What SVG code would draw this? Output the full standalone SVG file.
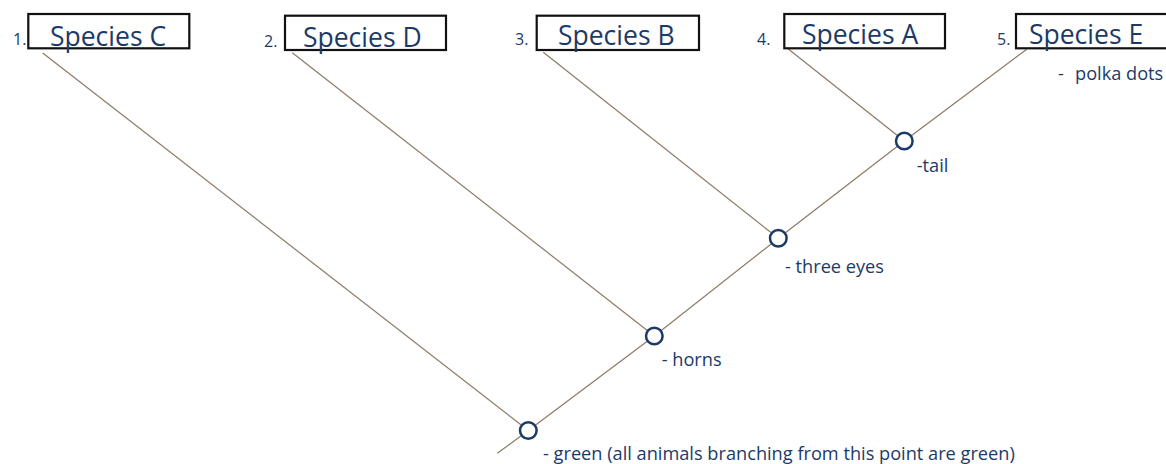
<svg xmlns="http://www.w3.org/2000/svg" width="1166" height="464" viewBox="0 0 1166 464">
<style>
.box{fill:none;stroke:#111;stroke-width:2.2}
.sp{font-family:"Open Sans","Noto Sans",sans-serif;font-size:26.5px;fill:#1c3a68}
.num{font-family:"Open Sans","Noto Sans",sans-serif;font-size:16px;fill:#1c3a68}
.lbl{font-family:"Open Sans","Noto Sans",sans-serif;font-size:18.2px;fill:#1c3a68}
.edge{fill:none;stroke:#8c7a66;stroke-width:1.2}
.node{fill:#fff;stroke:#1c3a68;stroke-width:2.5}
</style>
<rect width="1166" height="464" fill="#fff"/>
<g id="connectors">
<line class="edge" x1="42.7" y1="53" x2="528.3" y2="430.5"/>
<line class="edge" x1="292.3" y1="52.7" x2="654.3" y2="336"/>
<line class="edge" x1="543.3" y1="52.3" x2="778.3" y2="238.3"/>
<line class="edge" x1="788.3" y1="49" x2="904.3" y2="141"/>
<polyline class="edge" points="497.3,453.3 528.3,430.5 654.3,336 778.3,238.3 904.3,141 1026.7,49.3"/>
</g>
<g id="species-c">
<text class="num" x="13" y="45">1.</text>
<rect class="box" x="28.3" y="14" width="161" height="34.3"/>
<text class="sp" x="50" y="46">Species C</text>
</g>
<g id="species-d">
<text class="num" x="264" y="47">2.</text>
<rect class="box" x="285" y="15.7" width="161" height="34.3"/>
<text class="sp" x="303" y="47">Species D</text>
</g>
<g id="species-b">
<text class="num" x="515" y="45">3.</text>
<rect class="box" x="536.7" y="15.7" width="162.3" height="34.3"/>
<text class="sp" x="558" y="44.5">Species B</text>
</g>
<g id="species-a">
<text class="num" x="757" y="45">4.</text>
<rect class="box" x="784.3" y="14" width="160.7" height="34.3"/>
<text class="sp" x="802" y="44">Species A</text>
</g>
<g id="species-e">
<text class="num" x="997" y="45">5.</text>
<rect class="box" x="1016" y="14" width="161" height="34.3"/>
<text class="sp" x="1029" y="44">Species E</text>
<text class="lbl" x="1058" y="80">- <tspan x="1075">polka dots</tspan></text>
</g>
<g id="node-tail">
<circle class="node" cx="904.3" cy="141" r="8.3"/>
<text class="lbl" x="916.7" y="171.7">-tail</text>
</g>
<g id="node-three-eyes">
<circle class="node" cx="778.3" cy="238.3" r="8.3"/>
<text class="lbl" x="785" y="273.3">- three eyes</text>
</g>
<g id="node-horns">
<circle class="node" cx="654.3" cy="336" r="8.3"/>
<text class="lbl" x="661.7" y="366">- horns</text>
</g>
<g id="node-green">
<circle class="node" cx="528.3" cy="430.5" r="8.3"/>
<text class="lbl" x="543" y="460">- green (all animals branching from this point are green)</text>
</g>
</svg>
